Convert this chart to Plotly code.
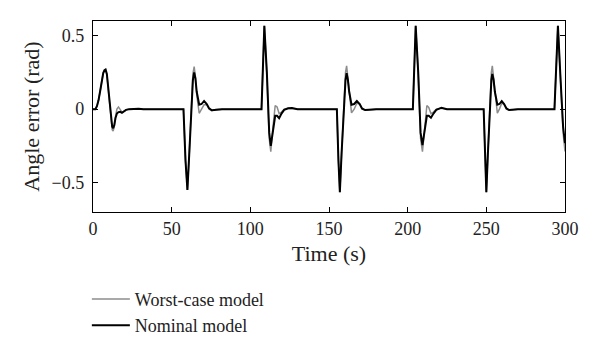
import plotly.graph_objects as go

# ---- data (time in s, angle error in rad) ----
t_e1 = [0, 1.5, 2.5, 3.5, 4.5, 5.5, 6.5, 7.3, 8, 8.8, 9.6, 10.5, 11.5, 12.2, 12.8, 13.5, 14.3, 15.2, 16.2, 17.3, 18.4, 19.6, 21, 23, 26, 29, 32]
nom_e1 = [0, 0.0, 0.02, 0.06, 0.12, 0.19, 0.245, 0.265, 0.27, 0.24, 0.15, 0.03, -0.08, -0.12, -0.13, -0.11, -0.06, -0.03, -0.02, -0.018, -0.025, -0.015, -0.005, 0.0, 0.004, 0.003, 0]
wc_e1 = [0, 0.0, 0.02, 0.06, 0.12, 0.19, 0.245, 0.265, 0.27, 0.235, 0.14, 0.01, -0.1, -0.14, -0.15, -0.12, -0.05, 0.0, 0.015, 0.0, -0.02, -0.015, -0.005, 0.0, 0.003, 0.002, 0]

t_e2 = [57.5, 58.8, 60.0, 61.2, 62.5, 63.5, 64.3, 65.1, 65.9, 66.7, 67.5, 69.0, 70.6, 72.3, 73.8, 75.5, 78, 82]
nom_e2 = [0, -0.35, -0.55, -0.3, 0.05, 0.2, 0.25, 0.21, 0.12, 0.06, 0.03, 0.035, 0.056, 0.035, 0.005, -0.008, -0.003, 0]
wc_e2 = [0, -0.35, -0.55, -0.3, 0.07, 0.24, 0.29, 0.22, 0.1, 0.02, -0.028, 0.0, 0.03, 0.03, 0.0, -0.01, -0.003, 0]

t_e3 = [107.1, 108.9, 110.5, 112.0, 113.0, 114.4, 115.8, 117.0, 118.3, 119.8, 121.5, 124, 126.5, 130]
nom_e3 = [0, 0.567, 0.25, -0.16, -0.25, -0.13, -0.045, -0.045, -0.062, -0.03, -0.005, 0.006, 0.008, 0]
wc_e3 = [0, 0.567, 0.24, -0.2, -0.29, -0.12, 0.025, 0.015, -0.03, -0.02, 0.0, 0.004, 0.005, 0]

t_e4 = [155.0, 156.0, 156.9, 158.0, 159.5, 160.5, 161.2, 162.0, 162.8, 163.6, 164.3, 166.0, 167.7, 169.5, 171.0, 173.0, 176, 180]
nom_e4 = [0, -0.35, -0.565, -0.3, 0.05, 0.2, 0.245, 0.2, 0.12, 0.06, 0.03, 0.035, 0.055, 0.035, 0.005, -0.006, -0.003, 0]
wc_e4 = [0, -0.35, -0.565, -0.3, 0.07, 0.25, 0.295, 0.21, 0.1, 0.02, -0.025, 0.0, 0.04, 0.035, 0.0, -0.008, -0.003, 0]

t_e5 = [203.3, 205.1, 206.7, 208.2, 209.4, 210.8, 212.2, 213.4, 214.8, 216.4, 218.2, 221.5, 225]
nom_e5 = [0, 0.567, 0.25, -0.16, -0.245, -0.13, -0.045, -0.045, -0.058, -0.03, -0.005, 0.01, 0]
wc_e5 = [0, 0.567, 0.24, -0.2, -0.29, -0.12, 0.025, 0.012, -0.03, -0.02, 0.0, 0.006, 0]

t_e6 = [248.3, 249.2, 250.0, 251.0, 252.3, 253.2, 253.8, 254.6, 255.4, 256.2, 257.0, 258.3, 259.8, 261.3, 262.8, 264.5, 267, 270]
nom_e6 = [0, -0.33, -0.565, -0.3, 0.05, 0.2, 0.24, 0.2, 0.12, 0.06, 0.03, 0.035, 0.055, 0.035, 0.005, -0.006, -0.003, 0]
wc_e6 = [0, -0.33, -0.565, -0.3, 0.07, 0.25, 0.295, 0.21, 0.1, 0.02, -0.028, 0.0, 0.04, 0.035, 0.0, -0.008, -0.003, 0]

t_e7 = [293.3, 295.5, 297.2, 298.8, 300]
nom_e7 = [0, 0.567, 0.2, -0.12, -0.232]
wc_e7 = [0, 0.567, 0.19, -0.16, -0.288]

x_ticks = [0, 50, 100, 150, 200, 250, 300]
y_ticks = [-0.5, 0, 0.5]
y_tick_labels = ["\u22120.5", "0", "0.5"]

# ---- assemble series ----
t_all = t_e1 + t_e2 + t_e3 + t_e4 + t_e5 + t_e6 + t_e7
nom_all = nom_e1 + nom_e2 + nom_e3 + nom_e4 + nom_e5 + nom_e6 + nom_e7
wc_all = wc_e1 + wc_e2 + wc_e3 + wc_e4 + wc_e5 + wc_e6 + wc_e7

FONT = "Liberation Serif"
TXT = "#222222"

fig = go.Figure()
fig.add_trace(go.Scatter(x=t_all, y=wc_all, mode="lines", name="Worst-case model",
                         line=dict(color="#8c8c8c", width=1.5)))
fig.add_trace(go.Scatter(x=t_all, y=nom_all, mode="lines", name="Nominal model",
                         line=dict(color="#000000", width=2)))

# the page body adds an 8px offset, so margins compensate for it
fig.update_layout(
    width=600, height=358,
    margin=dict(l=85, r=43, t=13, b=154),
    paper_bgcolor="white", plot_bgcolor="white",
    font=dict(family=FONT, size=18, color=TXT),
    showlegend=True,
    legend=dict(x=-0.013, y=-0.36, xanchor="left", yanchor="top",
                bgcolor="rgba(0,0,0,0)", font=dict(family=FONT, size=18, color=TXT),
                tracegroupgap=0, itemwidth=38),
)
fig.update_xaxes(range=[0, 300], tickvals=x_ticks, ticks="inside", ticklen=5,
                 showline=True, linecolor="black", linewidth=1.3, mirror="allticks",
                 showgrid=False, zeroline=False, tickcolor="black", automargin=False,
                 title=dict(text="Time (s)", standoff=7))
fig.update_yaxes(range=[-0.7, 0.6], tickvals=y_ticks, ticktext=y_tick_labels,
                 ticks="inside", ticklen=5, ticklabelstandoff=4,
                 showline=True, linecolor="black", linewidth=1.3, mirror="allticks",
                 showgrid=False, zeroline=False, tickcolor="black", automargin=False,
                 title=dict(text="Angle error (rad)", standoff=5))

fig.write_html("out.html")
